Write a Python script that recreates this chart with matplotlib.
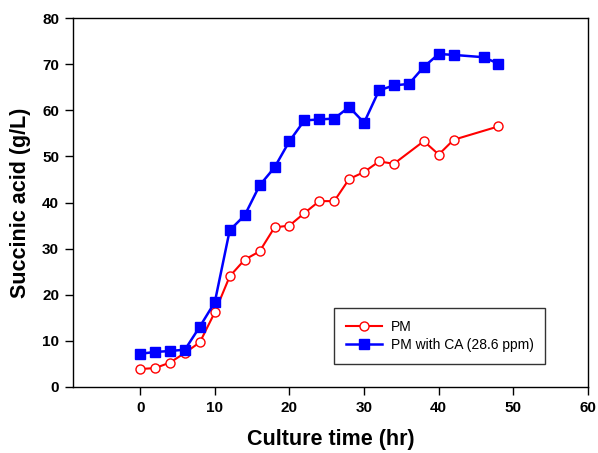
import matplotlib
matplotlib.use("Agg")
import matplotlib.pyplot as plt

plt.rcParams['font.family'] = ['Liberation Sans', 'DejaVu Sans']

# PM
t_pm = [0, 2, 4, 6, 8, 10, 12, 14, 16, 18, 20, 22, 24, 26, 28, 30, 32, 34, 38, 40, 42, 48]
sa_pm = [3.9, 4.1, 5.3, 7.4, 9.7, 16.2, 24.0, 27.6, 29.4, 34.6, 35.0, 37.7, 40.3, 40.3,
         45.1, 46.6, 48.9, 48.4, 53.3, 50.4, 53.6, 56.5]

# PM with CA (28.6 ppm)
t_ca = [0, 2, 4, 6, 8, 10, 12, 14, 16, 18, 20, 22, 24, 26, 28, 30, 32, 34, 36, 38, 40, 42, 46, 48]
sa_ca = [7.2, 7.6, 7.8, 8.1, 13.1, 18.4, 34.0, 37.2, 43.7, 47.6, 53.3, 57.8, 58.0, 58.2,
         60.7, 57.3, 64.3, 65.4, 65.7, 69.4, 72.2, 72.0, 71.5, 70.1]

xticks = [0, 10, 20, 30, 40, 50, 60]
yticks = [0, 10, 20, 30, 40, 50, 60, 70, 80]

fig = plt.figure(figsize=(5.98, 4.53), dpi=100)
ax = fig.add_axes([73 / 598, 1 - 387 / 453, (588 - 73) / 598, (387 - 18) / 453])

ax.plot(t_pm, sa_pm, color='red', lw=1.5, marker='o', ms=6.5,
        mfc='white', mec='red', mew=1.0, label='PM')
ax.plot(t_ca, sa_ca, color='blue', lw=1.8, marker='s', ms=7.5,
        mfc='blue', mec='blue', label='PM with CA (28.6 ppm)')

ax.set_xlim(-9, 60)
ax.set_ylim(0, 80)
ax.set_xticks(xticks)
ax.set_yticks(yticks)
ax.tick_params(direction='out', length=6, width=1, labelsize=11, pad=4)
for lab in ax.get_xticklabels() + ax.get_yticklabels():
    lab.set_fontweight('bold')
for s in ax.spines.values():
    s.set_linewidth(1.0)

ax.set_xlabel('Culture time (hr)', fontsize=15.5, fontweight='bold', va='center')
ax.set_ylabel('Succinic acid (g/L)', fontsize=15.5, fontweight='bold', va='center')
ax.xaxis.set_label_coords(0.5, -0.141)
ax.yaxis.set_label_coords(-0.101, 0.5)

leg = ax.legend(loc='lower right', bbox_to_anchor=(0.917, 0.062), borderaxespad=0,
                fontsize=10, frameon=True, fancybox=False, edgecolor='black',
                handlelength=2.6, handletextpad=0.6, borderpad=0.85, labelspacing=0.3)
leg.get_frame().set_linewidth(1.0)

fig.savefig('out.png', dpi=100)
